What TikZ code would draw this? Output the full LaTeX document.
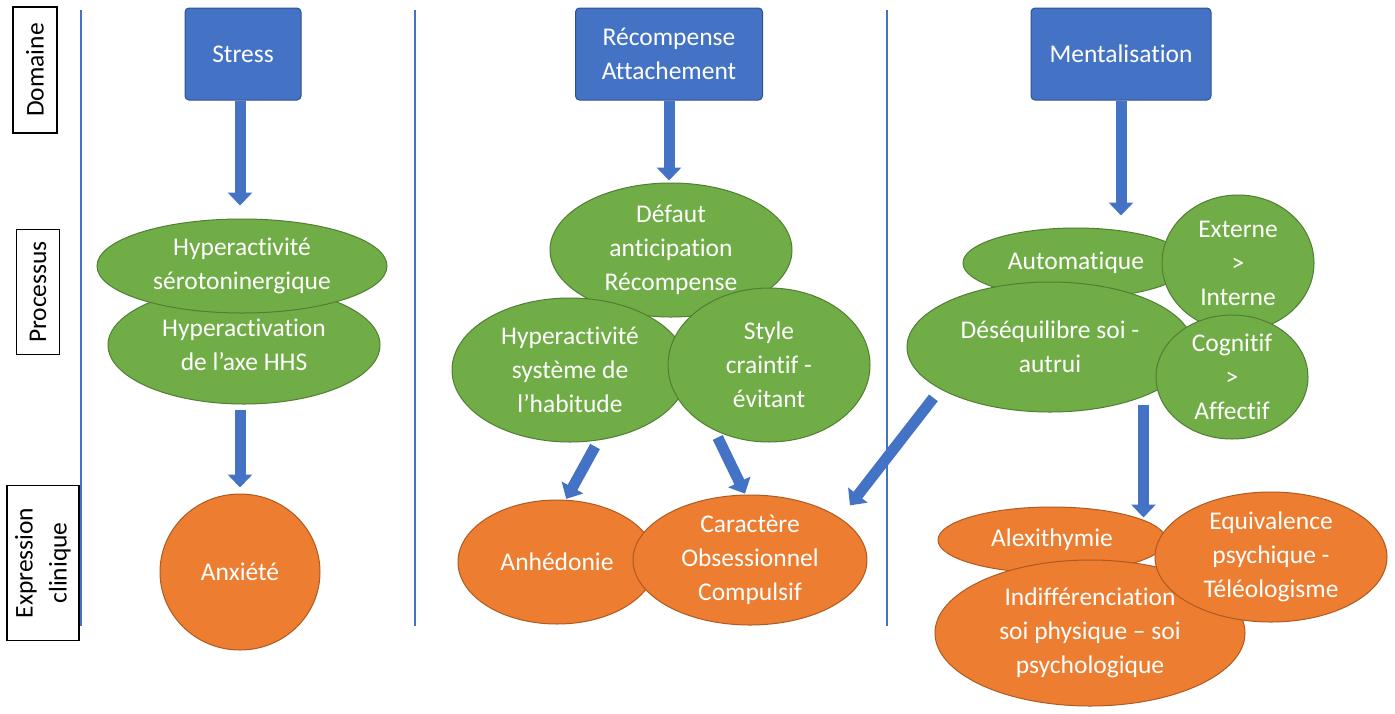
\documentclass[tikz,border=0pt]{standalone}
\usepackage{fontspec}
\setmainfont{Carlito}[Ligatures=NoCommon]
\usetikzlibrary{shapes.geometric,arrows.meta,positioning,calc}

\definecolor{domblue}{HTML}{4472C4}
\definecolor{domedge}{HTML}{2F528F}
\definecolor{procgreen}{HTML}{70AD47}
\definecolor{procedge}{HTML}{507E32}
\definecolor{clinorange}{HTML}{ED7D31}
\definecolor{clinedge}{HTML}{AE5A21}

\tikzset{
  txt/.style={font=\fontsize{25.5}{34}\selectfont, align=center},
  dombox/.style={txt, draw=domedge, fill=domblue, text=white, rounded corners=4pt, line width=1pt, inner sep=0pt},
  proc/.style={txt, ellipse, draw=procedge, fill=procgreen, text=white, line width=1pt, inner sep=0pt},
  clin/.style={txt, ellipse, draw=clinedge, fill=clinorange, text=white, line width=1pt, inner sep=0pt},
  rowlabel/.style={txt, draw=black, line width=1.2pt, rotate=90, inner sep=0pt},
  flow/.style={domblue, line width=11pt, -{Triangle[width=24pt,length=13pt]}},
  sep/.style={domblue, line width=1.4pt}
}

\begin{document}
\begin{tikzpicture}[x=1pt, y=-1pt]
    \useasboundingbox (0,0) rectangle (1395,713);

    % row labels
    \node [rowlabel, minimum width=126pt, minimum height=44pt] (lbldom) at (35,70) {Domaine};
    \node [rowlabel, minimum width=125pt, minimum height=43pt] (lblproc) at (38,292) {Processus};
    \node [rowlabel, minimum width=155pt, minimum height=72pt] (lblclin) at (43,563) {Expression\\clinique};

    % column separators
    \draw [sep] (81,10) -- (81,626);
    \draw [sep] (415,10) -- (415,626);
    \draw [sep] (887,10) -- (887,626);

    % domains
    \node [dombox, minimum width=116pt, minimum height=92pt] (stress) at (243,54) {Stress};
    \node [dombox, minimum width=187pt, minimum height=92pt] (recomp) at (669,54) {Récompense\\Attachement};
    \node [dombox, minimum width=180pt, minimum height=92pt] (mental) at (1121,54) {Mentalisation};

    % stress column
    \node [proc, minimum width=272pt, minimum height=118pt] (hyperhhs) at (244,345) {Hyperactivation\\de l’axe HHS};
    \node [proc, minimum width=290pt, minimum height=94pt] (hyperser) at (242,266) {Hyperactivité\\sérotoninergique};
    \node [clin, minimum width=160pt, minimum height=156pt] (anxiete) at (240,572) {Anxiété};

    % reward column
    \node [proc, minimum width=242pt, minimum height=134pt] (defaut) at (671,250) {Défaut\\anticipation\\Récompense};
    \node [proc, minimum width=236pt, minimum height=144pt] (habit) at (570,370) {Hyperactivité\\système de\\l’habitude};
    \node [proc, minimum width=202pt, minimum height=154pt] (style) at (769,365) {Style\\craintif -\\évitant};
    \node [clin, minimum width=198pt, minimum height=124pt] (anhedonie) at (557,562) {Anhédonie};
    \node [clin, minimum width=234pt, minimum height=130pt] (caract) at (750,560) {Caractère\\Obsessionnel\\Compulsif};

    % mentalisation column
    \node [proc, minimum width=226pt, minimum height=70pt] (automat) at (1076,263) {Automatique};
    \node [proc, minimum width=152pt, minimum height=136pt] (externe) at (1238,263) {Externe\\>\\Interne};
    \node [proc, minimum width=286pt, minimum height=130pt] (deseq) at (1050,347) {Déséquilibre soi -\\autrui};
    \node [proc, minimum width=152pt, minimum height=124pt] (cognitif) at (1232,377) {Cognitif\\>\\Affectif};
    \node [clin, minimum width=228pt, minimum height=66pt] (alexi) at (1052,540) {Alexithymie};
    \node [clin, minimum width=310pt, minimum height=146pt] (indiff) at (1090,633) {Indifférenciation\\soi physique – soi\\psychologique};
    \node [clin, minimum width=232pt, minimum height=130pt] (equiv) at (1271,557) {Equivalence\\psychique -\\Téléologisme};

    % arrows
    \draw [flow, shorten >=13pt] (stress.south -| anxiete.north) -- (anxiete.north |- hyperser.north);
    \draw [flow, shorten <=5pt, shorten >=6pt] (anxiete.north |- hyperhhs.south) -- (anxiete.north);
    \draw [flow, shorten >=2pt] (recomp.south) -- (recomp.south |- defaut.north);
    \draw [flow, shorten <=7pt, shorten >=1pt] (habit.-68) -- (anhedonie.82);
    \draw [flow, shorten <=8pt, shorten >=1pt] (style.-130) -- (caract.94);
    \draw [flow, shorten <=11pt, shorten >=16pt] (deseq.-159) -- (caract.25);
    \draw [flow, shorten >=12pt] (mental.south) -- (mental.south |- automat.north);
    \draw [flow, shorten <=8pt] (deseq.-28.5) -- ($(deseq.-28.5 |- alexi.north)+(0,11)$);
\end{tikzpicture}
\end{document}
